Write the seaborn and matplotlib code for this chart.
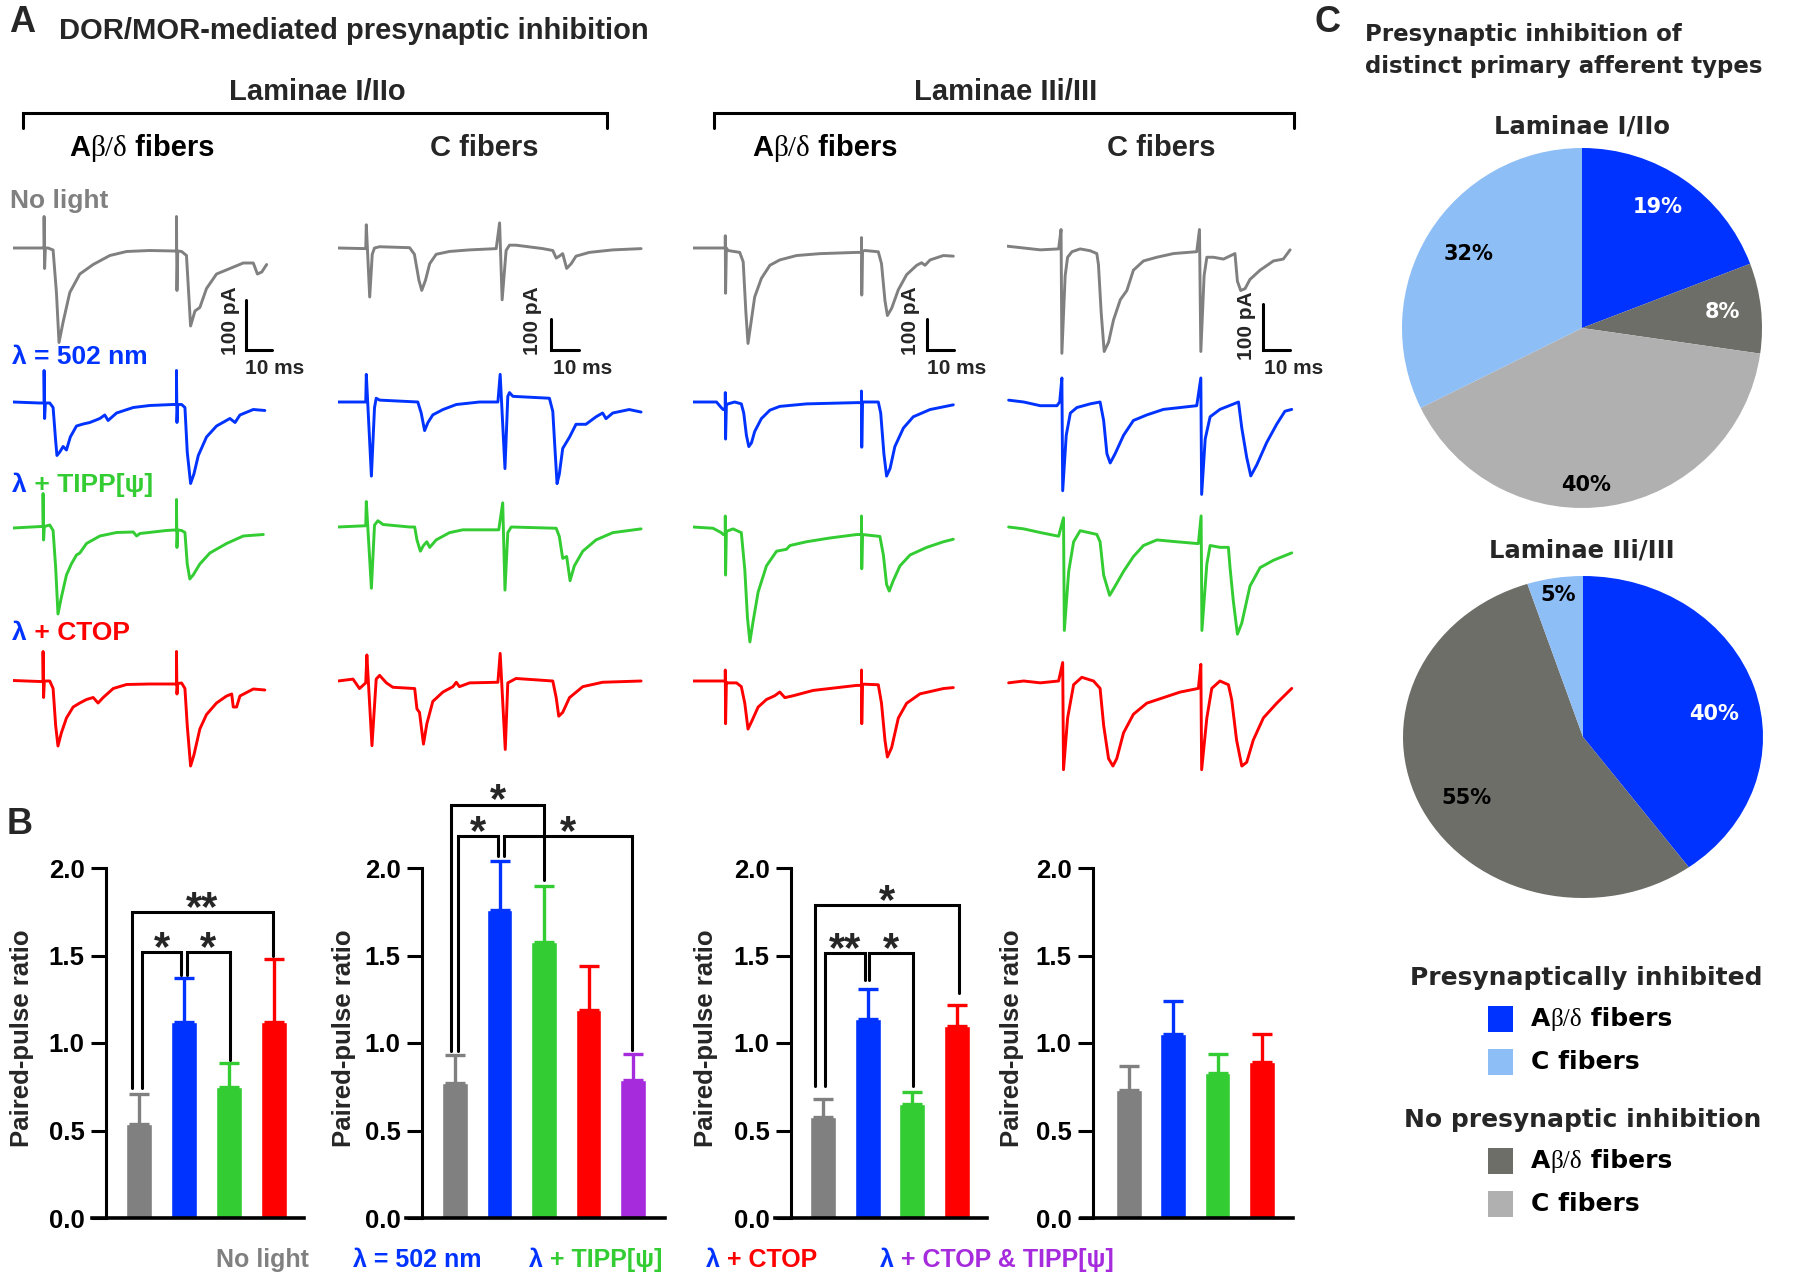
import matplotlib
matplotlib.use("Agg")
import matplotlib.pyplot as plt
from matplotlib.patches import Rectangle
import seaborn as sns
import pandas as pd

# ---------------- Panel A: example traces, (time ms, current pA) ----------------
# laminae I/IIo, Abeta/delta fibers
ab1_nolight = [(0, 0), (11.7, 0), (12.1, 0), (12.1, 63), (12.3, -41), (12.6, 0), (13.6, 0), (15.6, -4), (16.9, -89),
               (17.9, -189), (19.5, -148), (22.1, -89), (26, -52), (31.2, -33), (37.7, -15), (44.2, -7), (53.2, -5),
               (63, -6), (63.6, -6), (63.6, 63), (63.8, -85), (64.1, -6), (65.6, -7), (67.5, -15), (69.1, -156),
               (70.8, -126), (72.7, -119), (75.3, -81), (79.2, -52), (84.4, -41), (89.6, -30), (93.5, -30),
               (95.1, -52), (96.8, -48), (98.7, -33)]
ab1_light = [(0, 0), (10.4, -2), (12.1, -2), (12.1, 63), (12.3, -33), (12.6, -2), (14.3, -2), (15.6, -11), (16.6, -78),
             (17.1, -107), (18.2, -100), (19.5, -89), (20.8, -96), (22.3, -70), (24.7, -48), (27.3, -44), (29.9, -41),
             (33.8, -33), (35.7, -26), (37, -37), (40.3, -22), (46.8, -11), (53.2, -7), (62.3, -5), (63.6, -5),
             (63.6, 63), (63.8, -41), (64.1, -5), (65.6, -5), (66.9, -11), (67.8, -100), (69.1, -163), (70.4, -144),
             (72.1, -107), (75.3, -70), (79.2, -48), (84.4, -33), (86.4, -41), (88.3, -26), (93.5, -15), (98, -17)]
ab1_tipp = [(0, -2), (11, 1), (11.7, 1), (11.7, 67), (11.9, -26), (12.2, 1), (14.3, 4), (15.6, -7), (16.6, -81),
            (17.5, -174), (18.8, -141), (20.8, -96), (22.7, -74), (24.7, -56), (26, -52), (28.6, -33), (33.8, -18),
            (40.3, -11), (46.8, -10), (48.1, -18), (49.4, -13), (59.7, -7), (63, -6), (63.6, -6), (63.6, 55),
            (63.8, -41), (64.1, -6), (65.6, -7), (66.9, -11), (67.8, -74), (68.8, -104), (70.1, -96), (72.7, -74),
            (76.6, -52), (83.1, -33), (89.6, -18), (97.4, -15)]
ab1_ctop = [(0, 1), (10.4, -1), (11.7, -1), (11.7, 59), (11.9, -33), (12.2, 0), (14.3, 0), (15.6, -15), (16.6, -89),
            (17.5, -130), (18.8, -104), (20.8, -74), (23.4, -52), (26, -44), (28.6, -37), (31.2, -33), (33.1, -44),
            (35.1, -33), (39, -15), (44.2, -7), (53.2, -6), (63, -6), (63.6, -6), (63.6, 59), (63.8, -26), (64.1, -5),
            (65.6, -4), (66.9, -15), (67.8, -89), (69.1, -170), (70.4, -148), (72.7, -96), (75.3, -67), (79.2, -44),
            (83.1, -30), (85.1, -26), (85.7, -52), (87, -52), (88.3, -30), (93.5, -16), (98, -18)]

# laminae I/IIo, C fibers
c1_nolight = [(0, 0), (9.8, -2), (10, 74), (11.2, -156), (12.1, -20), (12.9, 0), (14.7, 4), (25.3, 1), (27, -20),
              (28.6, -103), (29.6, -135), (30.9, -103), (32.4, -50), (34.7, -20), (39.4, -11), (46.5, -6), (55.9, -2),
              (57.1, 80), (58, -165), (59.4, -8), (60.6, 9), (62.9, 9), (72.4, -2), (75.9, -8), (77.1, -32),
              (78.2, -26), (79.4, -18), (80.8, -65), (82.4, -50), (84.1, -26), (88.8, -14), (97.1, -6), (107.1, -2)]
c1_light = [(0, 0), (9.8, 0), (10, 88), (11.8, -236), (12.9, -18), (13.5, 12), (14.7, 6), (28.2, 0), (29.4, -35),
            (30.6, -91), (31.8, -65), (33.5, -41), (37.1, -24), (41.8, -8), (50, 0), (56.5, 0), (57.3, 88),
            (59, -212), (60, 18), (60.6, 30), (61.8, 18), (74.7, 12), (75.9, -30), (76.5, -124), (77.4, -260),
            (78.2, -230), (79.4, -148), (81.8, -112), (84.1, -71), (87.6, -71), (91.2, -47), (93.5, -35),
            (94.7, -53), (97.1, -35), (102.9, -24), (107.1, -32)]
c1_tipp = [(0, 0), (9.8, 4), (10, 81), (11.8, -195), (12.9, 6), (14.1, 20), (15.9, 8), (25.3, 0), (27.1, 0),
           (27.9, -41), (29.1, -77), (30.2, -59), (31.4, -47), (32.4, -65), (34.7, -41), (39.4, -18), (44.1, -9),
           (56.8, -9), (58.2, 77), (59, -201), (60, -18), (61.2, 0), (77.1, -4), (78.2, -30), (79.4, -100),
           (80.8, -94), (82, -171), (83.5, -124), (86.5, -77), (91.2, -41), (97.1, -18), (107.1, -6)]
c1_ctop = [(0, 0), (5.3, 6), (7.6, -24), (9.8, -6), (10.2, 83), (12, -206), (13.5, 6), (14.7, 18), (17.1, -6),
           (19.4, -20), (27.1, -24), (27.9, -89), (28.8, -100), (30.2, -201), (31.4, -136), (33.5, -65), (37.1, -35),
           (40.6, -18), (41.8, -4), (42.9, -18), (46.5, -6), (56.5, -4), (57.3, 88), (59.1, -218), (60, -6),
           (62.9, 8), (75.9, 0), (77.1, -53), (78, -112), (79.4, -100), (81.8, -53), (86.5, -18), (93.5, -4),
           (107.1, 0)]

# laminae IIi/III, Abeta/delta fibers
ab2_nolight = [(0, 0), (11.3, 0), (12.1, 0), (12.1, 39), (12.2, -144), (12.5, 0), (13.1, -8), (17.5, -14),
               (18.8, -44), (19.8, -204), (20.6, -304), (21.5, -251), (23.1, -156), (25.6, -97), (28.8, -55),
               (32.5, -38), (38.8, -24), (47.5, -18), (61.3, -14), (63.1, -14), (63.1, 33), (63.2, -150), (63.5, -10),
               (64.4, -8), (69.4, -12), (70.6, -50), (71.9, -168), (72.8, -215), (74.4, -192), (76.9, -133), (80, -85),
               (83.8, -55), (85.6, -47), (86.9, -55), (88.8, -38), (93.8, -24), (97.5, -26)]
ab2_light = [(0, 0), (8.8, 0), (10.6, -18), (11.3, -24), (12.1, -20), (12.1, 30), (12.2, -118), (12.5, -10),
             (13.1, -6), (15.6, 0), (18.1, -6), (19, -35), (20, -106), (20.9, -142), (21.9, -130), (23.1, -94),
             (25.6, -53), (28.8, -26), (32.5, -14), (42.5, -6), (61.3, -2), (63.1, -2), (63.1, 35), (63.2, -144),
             (63.5, 0), (69.4, 0), (70.3, -35), (71.5, -165), (72.5, -236), (73.8, -212), (75.6, -142), (78.8, -83),
             (82.5, -47), (88.8, -24), (97.5, -9)]
ab2_tipp = [(0, 0), (7.5, -4), (10.6, -18), (11.3, -24), (12.1, -20), (12.1, 35), (12.2, -153), (12.5, -15),
            (13.1, -12), (15, -6), (18.1, -18), (19.4, -136), (20.4, -289), (21.3, -366), (22.5, -301), (24.4, -207),
            (27.5, -124), (31.3, -77), (35, -71), (36.3, -59), (42.5, -47), (51.3, -35), (61.3, -24), (63.1, -24),
            (63.1, 35), (63.2, -133), (63.5, -24), (70, -30), (71.3, -89), (72.5, -183), (73.5, -204), (75, -171),
            (77.5, -124), (81.3, -89), (87.5, -65), (93.8, -47), (97.5, -39)]
ab2_ctop = [(0, 0), (11.3, 0), (12.1, 0), (12.1, 35), (12.2, -136), (12.5, -4), (13.1, -6), (16.3, -6), (18.1, -18),
            (19.4, -71), (20.6, -153), (21.9, -130), (24.4, -83), (27.5, -59), (30.6, -47), (32.5, -35), (34.4, -53),
            (37.5, -47), (45, -30), (61.3, -14), (63.1, -14), (63.1, 35), (63.2, -136), (63.5, -10), (69.4, -12),
            (70.6, -71), (71.9, -189), (72.8, -242), (74.4, -212), (76.9, -118), (80, -71), (85, -41), (93.8, -24),
            (97.5, -21)]

# laminae IIi/III, C fibers
c2_nolight = [(0, 4), (6.1, 0), (12.2, -4), (18.9, -2), (19.8, 40), (20.1, -228), (21.3, -60), (22.2, -20),
              (23.8, -8), (26.8, -2), (30.5, -6), (32.9, -12), (33.5, -36), (34.5, -140), (35.6, -224), (37.2, -204),
              (39, -156), (41.5, -112), (43.9, -92), (46.3, -48), (50, -28), (54.9, -20), (61, -12), (69.5, -8),
              (70.5, 40), (71, -224), (72.2, -60), (73.2, -20), (75.6, -20), (79.3, -24), (83.5, -12), (84.4, -72),
              (85.6, -92), (87.2, -88), (89, -68), (92.7, -48), (97.6, -28), (101.2, -24), (103.7, -4)]
c2_light = [(0.6, 4), (6.1, 0), (12.2, -8), (18.3, -8), (19.3, 0), (20.1, 52), (20.4, -192), (21.7, -72),
            (23.2, -24), (25.6, -12), (30.5, -4), (34.1, 0), (35.4, -40), (36.6, -112), (37.8, -132), (39.6, -112),
            (42.7, -72), (46.3, -40), (51.2, -28), (57.3, -16), (63.4, -12), (69.5, -8), (71, 52), (71.3, -200),
            (72.6, -80), (74.4, -32), (78, -16), (84.8, 0), (86, -56), (87.8, -120), (89.3, -160), (91.5, -136),
            (95.1, -88), (98.8, -48), (101.8, -20), (104.3, -16)]
c2_tipp = [(0.6, 0), (6.1, -4), (12.2, -12), (18.9, -20), (20.7, 20), (21, -224), (22.6, -96), (24.4, -32),
           (26.8, -8), (32.9, -16), (34.1, -32), (35.4, -104), (37.6, -148), (39.6, -128), (42.7, -96), (46.3, -64),
           (50, -40), (54.9, -28), (62.2, -32), (70.1, -36), (71.1, 24), (71.4, -224), (73.2, -80), (74.4, -40),
           (78, -44), (81.1, -44), (81.7, -88), (82.9, -160), (84.4, -232), (86, -208), (89, -128), (92.7, -88),
           (97.6, -72), (104.3, -56)]
c2_ctop = [(0.6, -4), (6.1, 0), (12.2, -4), (18.9, 0), (20.4, 40), (20.7, -192), (22.2, -80), (24.4, -8), (27.4, 8),
           (31.7, 0), (34.1, -16), (35.4, -96), (37.2, -168), (38.8, -184), (40.2, -168), (42.7, -112), (46.3, -72),
           (51.2, -48), (57.3, -36), (63.4, -24), (70.1, -16), (71, 36), (71.3, -192), (73.2, -80), (75, -16),
           (78, 0), (81.1, -8), (82.3, -40), (84.1, -128), (86, -184), (87.8, -176), (90.2, -128), (93.9, -80),
           (98.8, -48), (104.3, -16)]

# ---------------- Panel B: paired-pulse ratio (mean, SEM) ----------------
conditions = ["No light", "λ = 502 nm", "λ + TIPP[ψ]", "λ + CTOP", "λ + CTOP & TIPP[ψ]"]
ppr_sup_ab = [0.54, 1.12, 0.75, 1.12]
sem_sup_ab = [0.17, 0.25, 0.135, 0.36]
ppr_sup_c = [0.77, 1.76, 1.58, 1.19, 0.79]
sem_sup_c = [0.16, 0.28, 0.32, 0.25, 0.145]
ppr_deep_ab = [0.58, 1.14, 0.65, 1.10]
sem_deep_ab = [0.10, 0.17, 0.07, 0.12]
ppr_deep_c = [0.73, 1.05, 0.83, 0.89]
sem_deep_c = [0.14, 0.19, 0.11, 0.16]

# significance brackets: left x, right x, top, left foot, right foot, label
sig_sup_ab = [(-0.16, 2.98, 1.747, 0.743, 1.495, "**"), (0.07, 0.93, 1.518, 0.743, 1.39, "*"),
              (1.06, 2.02, 1.518, 1.39, 0.905, "*")]
sig_sup_c = [(-0.09, 2.01, 2.362, 0.952, 1.933, "*"), (0.06, 0.96, 2.181, 0.952, 2.067, "*"),
             (1.09, 3.97, 2.181, 2.067, 0.962, "*")]
sig_deep_ab = [(-0.17, 3.04, 1.79, 0.752, 1.286, "*"), (0.05, 0.94, 1.514, 0.752, 1.362, "**"),
               (1.04, 2.02, 1.514, 1.362, 0.752, "*")]
sig_deep_c = []

# ---------------- Panel C: afferent types (%) ----------------
afferent_types = ["Aβ/δ inhibited", "Aβ/δ not inhibited", "C not inhibited", "C inhibited"]
pct_sup = [19, 8, 40, 32]
pct_deep = [40, 55, 0, 5]
label_col_sup = ["white", "white", "black", "black"]
label_col_deep = ["white", "black", "black", "black"]
# where each percentage sits inside its pie (unit-radius coordinates)
label_pos_sup = [(0.42, 0.67), (0.78, 0.09), (0.02, -0.87), (-0.63, 0.41)]
label_pos_deep = [(0.73, 0.14), (-0.65, -0.38), (0, 0), (-0.14, 0.88)]

GRAY, BLUE, GREEN, RED, PURPLE = "#808080", "#0033FF", "#33CC33", "#FF0000", "#A62BDD"
cond_colors = [GRAY, BLUE, GREEN, RED, PURPLE]
pie_colors = [BLUE, "#6D6E68", "#B0B0B0", "#8EBEF6"]

SANS, SERIF, WIDE = "Liberation Sans", "Liberation Serif", "DejaVu Sans"

sns.set_theme(style="white")
plt.rcParams["font.family"] = [SANS, "DejaVu Sans"]

W, H = 1793, 1279
fig = plt.figure(figsize=(W / 100, H / 100), dpi=100)
bg = fig.add_axes([0, 0, 1, 1])
bg.set_xlim(0, W)
bg.set_ylim(H, 0)
bg.axis("off")


def px_axes(x0, y0, x1, y1):
    return fig.add_axes([x0 / W, 1 - y1 / H, (x1 - x0) / W, (y1 - y0) / H])


def rich(x, y, parts, size, ha="left", fam=SANS):
    # parts: (text, color, family or None); drawn one after another on a line
    first = prev = None
    for s, color, f in parts:
        f = f or fam
        fw = "normal" if f == SERIF else "bold"
        if prev is None:
            prev = bg.text(x, y, s, color=color, fontsize=size, fontweight=fw, family=f, ha="left", va="center")
            first = prev
        else:
            prev = bg.annotate(s, xy=(1, 0), xycoords=prev, xytext=(0, 0), textcoords="offset points",
                               ha="left", va="bottom", color=color, fontsize=size, fontweight=fw, family=f)
    if ha == "center":
        fig.canvas.draw()
        r = fig.canvas.get_renderer()
        w = prev.get_window_extent(r).x1 - first.get_window_extent(r).x0
        first.set_x(x - w / 2)
    return first


def abd(color="black"):
    return [("A", color, None), ("β/δ", color, SERIF), (" fibers", color, None)]


# ---------------- Panel A ----------------
bg.text(9, 23, "A", fontsize=26, fontweight="bold", va="center")
bg.text(59, 31, "DOR/MOR-mediated presynaptic inhibition", fontsize=21, fontweight="bold", va="center")
for x0, x1, name in [(23, 607, "Laminae I/IIo"), (714, 1294, "Laminae IIi/III")]:
    bg.plot([x0, x0, x1, x1], [128, 113, 113, 128], color="black", lw=2.2, solid_joinstyle="miter")
    bg.text((x0 + x1) / 2 + 2, 92, name, fontsize=21, fontweight="bold", ha="center", va="center")
rich(142, 148, abd(), 21, ha="center")
bg.text(484, 148, "C fibers", fontsize=21, fontweight="bold", ha="center", va="center")
rich(825, 148, abd(), 21, ha="center")
bg.text(1161, 148, "C fibers", fontsize=21, fontweight="bold", ha="center", va="center")

row_base = [248, 402, 527, 681]
row_colors = [GRAY, BLUE, GREEN, RED]
rich(10, 201, [("No light", GRAY, None)], 19)
rich(12, 357, [("λ = 502 nm", BLUE, None)], 19)
rich(12, 485, [("λ", BLUE, None), (" + TIPP[ψ]", GREEN, None)], 19)
rich(12, 633, [("λ", BLUE, None), (" + CTOP", RED, None)], 19)

trace_cols = [
    dict(x0=13, ms_px=2.57, pa_px=0.50, traces=[ab1_nolight, ab1_light, ab1_tipp, ab1_ctop], bar_x=246, lab_x=230, lab_y=321),
    dict(x0=338, ms_px=2.83, pa_px=0.314, traces=[c1_nolight, c1_light, c1_tipp, c1_ctop], bar_x=551, lab_x=533, lab_y=321),
    dict(x0=693, ms_px=2.67, pa_px=0.314, traces=[ab2_nolight, ab2_light, ab2_tipp, ab2_ctop], bar_x=927, lab_x=910, lab_y=321),
    dict(x0=1007, ms_px=2.73, pa_px=0.462, traces=[c2_nolight, c2_light, c2_tipp, c2_ctop], bar_x=1263, lab_x=1247, lab_y=326),
]
span, up, down = 320, 90, 160
for col in trace_cols:
    for trace, base, color in zip(col["traces"], row_base, row_colors):
        ax = px_axes(col["x0"], base - up, col["x0"] + span, base + down)
        df = pd.DataFrame(trace, columns=["t", "pA"])
        sns.lineplot(data=df, x="t", y="pA", ax=ax, color=color, lw=2.1, estimator=None, sort=False)
        ax.set_xlim(0, span / col["ms_px"])
        ax.set_ylim(-down / col["pa_px"], up / col["pa_px"])
        ax.axis("off")
        ax.patch.set_visible(False)
    # scale bar: 100 pA, 10 ms
    bx, by = col["bar_x"], 350
    bg.plot([bx, bx, bx + 10 * col["ms_px"]], [by - 100 * col["pa_px"], by, by], color="black", lw=2.2,
            solid_joinstyle="miter")
    bg.text(col["lab_x"], col["lab_y"], "100 pA", rotation=90, fontsize=15, fontweight="bold", ha="center", va="center")
    bg.text(bx + 10 * col["ms_px"] + 3, 368, "10 ms", fontsize=15, fontweight="bold", ha="center", va="center")

# ---------------- Panel B ----------------
bg.text(7, 824, "B", fontsize=26, fontweight="bold", va="center")
charts = [
    dict(vals=ppr_sup_ab, sem=sem_sup_ab, ends=(92, 304), c0=139, step=45, spine=106, sig=sig_sup_ab, lab_x=22),
    dict(vals=ppr_sup_c, sem=sem_sup_c, ends=(406, 665), c0=455, step=44.5, spine=422, sig=sig_sup_c, lab_x=344),
    dict(vals=ppr_deep_ab, sem=sem_deep_ab, ends=(775, 987), c0=823, step=44.7, spine=791, sig=sig_deep_ab, lab_x=706),
    dict(vals=ppr_deep_c, sem=sem_deep_c, ends=(1081, 1293), c0=1129, step=44.3, spine=1093, sig=sig_deep_c, lab_x=1012),
]
y0_px, unit_px, ytop = 1218, 175, 2.55
for ch in charts:
    n = len(ch["vals"])
    cats = conditions[:n]
    cols = cond_colors[:n]
    ax = px_axes(ch["ends"][0], y0_px - ytop * unit_px, ch["ends"][1], y0_px)
    ax.patch.set_visible(False)
    sns.barplot(x=cats, y=ch["vals"], hue=cats, hue_order=cats, order=cats, palette=cols, width=0.58,
                saturation=1, legend=False, ax=ax)
    for i in range(n):
        ax.errorbar(i, ch["vals"][i], yerr=[[0], [ch["sem"][i]]], fmt="none", ecolor=cols[i], elinewidth=2.4,
                    capsize=7.5, capthick=2.4, zorder=1)
    for xl, xr, top, yl, yr, lab in ch["sig"]:
        ax.plot([xl, xl, xr, xr], [yl, top, top, yr], color="black", lw=2.2, clip_on=False, solid_joinstyle="miter")
        ax.text((xl + xr) / 2, top - 0.045, lab, fontsize=30, fontweight="bold", ha="center", va="baseline")
    ax.set_xlim((ch["ends"][0] - ch["c0"]) / ch["step"], (ch["ends"][1] - ch["c0"]) / ch["step"])
    ax.set_ylim(0, ytop)
    for s in ["top", "right"]:
        ax.spines[s].set_visible(False)
    ax.spines["left"].set_position(("data", (ch["spine"] - ch["c0"]) / ch["step"]))
    ax.spines["left"].set_bounds(0, 2)
    ax.spines["left"].set_linewidth(2.2)
    ax.spines["bottom"].set_linewidth(2.6)
    ax.spines["left"].set_color("black")
    ax.spines["bottom"].set_color("black")
    ticks = [0, 0.5, 1.0, 1.5, 2.0]
    ax.set_yticks(ticks)
    ax.set_yticklabels([f"{t:.1f}" for t in ticks], fontsize=18.5, fontweight="bold")
    ax.tick_params(axis="y", left=True, direction="out", length=10.5, width=2.2, pad=5, colors="black")
    ax.tick_params(axis="x", bottom=False, labelbottom=False)
    ax.set_xlabel("")
    ax.set_ylabel("")
    bg.text(ch["lab_x"], 1038, "Paired-pulse ratio", rotation=90, fontsize=18.5, fontweight="bold",
            ha="center", va="center")

rich(216, 1260, [("No light", GRAY, None)], 18)
rich(353, 1260, [("λ = 502 nm", BLUE, None)], 18)
rich(529, 1260, [("λ", BLUE, None), (" + TIPP[ψ]", GREEN, None)], 18)
rich(706, 1260, [("λ", BLUE, None), (" + CTOP", RED, None)], 18)
rich(880, 1260, [("λ", BLUE, None), (" + CTOP & TIPP[ψ]", PURPLE, None)], 18)

# ---------------- Panel C ----------------
bg.text(1315, 22, "C", fontsize=26, fontweight="bold", va="center")
bg.text(1365, 34, "Presynaptic inhibition of", fontsize=16.5, fontweight="bold", family=WIDE, va="center")
bg.text(1365, 67, "distinct primary afferent types", fontsize=16.5, fontweight="bold", family=WIDE, va="center")
bg.text(1582, 126, "Laminae I/IIo", fontsize=17.5, fontweight="bold", family=WIDE, ha="center", va="center")
bg.text(1582, 550, "Laminae IIi/III", fontsize=17.5, fontweight="bold", family=WIDE, ha="center", va="center")

pies = [(pct_sup, label_col_sup, label_pos_sup, (1582, 328), 180, 180),
        (pct_deep, label_col_deep, label_pos_deep, (1583, 737), 180, 161)]
for vals, lcols, lpos, (cx, cy), rx, ry in pies:
    keep = [i for i, v in enumerate(vals) if v > 0]
    v = [vals[i] for i in keep]
    ax = px_axes(cx - rx, cy - ry, cx + rx, cy + ry)
    wedges, texts = ax.pie(v, colors=[pie_colors[i] for i in keep], startangle=90, counterclock=False,
                           labels=[f"{x}%" for x in v], labeldistance=0.78, wedgeprops=dict(linewidth=0),
                           textprops=dict(fontsize=15, fontweight="bold", family=WIDE, ha="center", va="center"))
    for i, t in zip(keep, texts):
        t.set_color(lcols[i])
        t.set_position(lpos[i])
    ax.set_aspect("auto")
    ax.set_xlim(-1, 1)
    ax.set_ylim(-1, 1)

bg.text(1586, 978, "Presynaptically inhibited", fontsize=18, fontweight="bold", family=WIDE, ha="center", va="center")
bg.text(1583, 1120, "No presynaptic inhibition", fontsize=18, fontweight="bold", family=WIDE, ha="center", va="center")
legend_rows = [(pie_colors[0], 1019, abd()), (pie_colors[3], 1062, [("C fibers", "black", None)]),
               (pie_colors[1], 1161, abd()), (pie_colors[2], 1204, [("C fibers", "black", None)])]
for color, y, parts in legend_rows:
    bg.add_patch(Rectangle((1488, y - 13), 25, 26, facecolor=color, edgecolor="none"))
    rich(1531, y, parts, 18, fam=WIDE)

fig.savefig("out.png", dpi=100)
